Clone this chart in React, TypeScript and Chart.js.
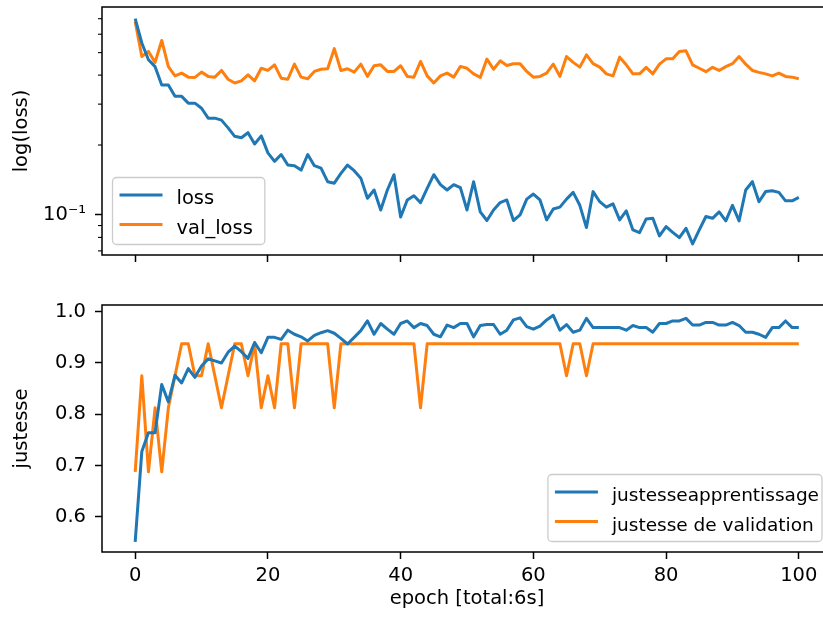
import React, { useEffect, useRef } from 'react';
import { Chart, registerables } from 'chart.js';

Chart.register(...registerables);

const EPOCHS = Array.from({ length: 101 }, (_, i) => i);

const LOSS = [
  0.700, 0.550, 0.466, 0.435, 0.363, 0.363, 0.324, 0.324, 0.303, 0.303,
  0.288, 0.261, 0.261, 0.256, 0.237, 0.218, 0.215, 0.226, 0.202, 0.219,
  0.185, 0.170, 0.182, 0.164, 0.163, 0.156, 0.182, 0.163, 0.159, 0.139,
  0.137, 0.151, 0.164, 0.155, 0.144, 0.118, 0.128, 0.105, 0.128, 0.149,
  0.098, 0.116, 0.121, 0.113, 0.130, 0.149, 0.135, 0.128, 0.135, 0.131,
  0.105, 0.139, 0.103, 0.0946, 0.105, 0.113, 0.116, 0.0946, 0.100, 0.117,
  0.123, 0.116, 0.0952, 0.106, 0.108, 0.117, 0.125, 0.110, 0.0882, 0.126,
  0.114, 0.108, 0.1115, 0.0952, 0.104, 0.0862, 0.0839, 0.0961, 0.0967, 0.0812,
  0.0891, 0.0841, 0.0798, 0.0876, 0.0750, 0.0862, 0.0984, 0.0967, 0.103, 0.0943,
  0.110, 0.0943, 0.128, 0.139, 0.114, 0.126, 0.127, 0.125, 0.115, 0.115,
  0.119,
];

const VAL_LOSS = [
  0.681, 0.481, 0.506, 0.454, 0.564, 0.435, 0.397, 0.408, 0.392, 0.391,
  0.412, 0.395, 0.392, 0.419, 0.384, 0.370, 0.378, 0.401, 0.378, 0.428,
  0.419, 0.443, 0.388, 0.384, 0.446, 0.392, 0.386, 0.415, 0.424, 0.426,
  0.520, 0.419, 0.426, 0.412, 0.446, 0.395, 0.439, 0.443, 0.415, 0.415,
  0.439, 0.395, 0.392, 0.458, 0.397, 0.370, 0.397, 0.408, 0.392, 0.436,
  0.428, 0.405, 0.391, 0.469, 0.424, 0.461, 0.440, 0.448, 0.448, 0.415,
  0.392, 0.395, 0.408, 0.446, 0.395, 0.481, 0.454, 0.433, 0.489, 0.448,
  0.433, 0.405, 0.397, 0.478, 0.443, 0.405, 0.405, 0.432, 0.405, 0.446,
  0.470, 0.470, 0.506, 0.509, 0.443, 0.428, 0.414, 0.432, 0.419, 0.435,
  0.448, 0.481, 0.446, 0.419, 0.411, 0.405, 0.397, 0.408, 0.395, 0.392,
  0.386,
];

const TRAIN_ACC = [
  0.551, 0.727, 0.764, 0.764, 0.858, 0.824, 0.876, 0.861, 0.889, 0.872,
  0.894, 0.908, 0.904, 0.900, 0.921, 0.933, 0.922, 0.909, 0.940, 0.920,
  0.950, 0.950, 0.946, 0.964, 0.956, 0.951, 0.943, 0.954, 0.959, 0.963,
  0.958, 0.948, 0.937, 0.950, 0.963, 0.982, 0.956, 0.977, 0.966, 0.956,
  0.977, 0.982, 0.969, 0.977, 0.973, 0.956, 0.951, 0.974, 0.969, 0.977,
  0.977, 0.951, 0.973, 0.975, 0.975, 0.956, 0.964, 0.984, 0.988, 0.971,
  0.966, 0.972, 0.984, 0.993, 0.964, 0.975, 0.960, 0.964, 0.987, 0.969,
  0.969, 0.969, 0.969, 0.969, 0.964, 0.973, 0.969, 0.969, 0.960, 0.977,
  0.977, 0.982, 0.982, 0.987, 0.974, 0.974, 0.979, 0.979, 0.974, 0.974,
  0.979, 0.973, 0.960, 0.960, 0.956, 0.950, 0.969, 0.969, 0.982, 0.969,
  0.969,
];

const VAL_ACC = [
  0.6875, 0.875, 0.6875, 0.8125, 0.6875, 0.8125, 0.875, 0.9375, 0.9375, 0.875,
  0.875, 0.9375, 0.875, 0.8125, 0.875, 0.9375, 0.9375, 0.875, 0.9375, 0.8125,
  0.875, 0.8125, 0.9375, 0.9375, 0.8125, 0.9375, 0.9375, 0.9375, 0.9375, 0.9375,
  0.8125, 0.9375, 0.9375, 0.9375, 0.9375, 0.9375, 0.9375, 0.9375, 0.9375, 0.9375,
  0.9375, 0.9375, 0.9375, 0.8125, 0.9375, 0.9375, 0.9375, 0.9375, 0.9375, 0.9375,
  0.9375, 0.9375, 0.9375, 0.9375, 0.9375, 0.9375, 0.9375, 0.9375, 0.9375, 0.9375,
  0.9375, 0.9375, 0.9375, 0.9375, 0.9375, 0.875, 0.9375, 0.9375, 0.875, 0.9375,
  0.9375, 0.9375, 0.9375, 0.9375, 0.9375, 0.9375, 0.9375, 0.9375, 0.9375, 0.9375,
  0.9375, 0.9375, 0.9375, 0.9375, 0.9375, 0.9375, 0.9375, 0.9375, 0.9375, 0.9375,
  0.9375, 0.9375, 0.9375, 0.9375, 0.9375, 0.9375, 0.9375, 0.9375, 0.9375, 0.9375,
  0.9375,
];

const X_TICKS = [0, 20, 40, 60, 80, 100];
const LOSS_TICKS = [0.07, 0.08, 0.09, 0.1, 0.2, 0.3, 0.4, 0.5, 0.6, 0.7];
const LOSS_MAJOR = 0.1;
const ACC_TICKS = [0.6, 0.7, 0.8, 0.9, 1.0];

const LABEL_LOSS = 'loss';
const LABEL_VAL_LOSS = 'val_loss';
const LABEL_TRAIN_ACC = 'justesseapprentissage';
const LABEL_VAL_ACC = 'justesse de validation';

const BLUE = '#1f77b4';
const ORANGE = '#ff7f0e';
const FONT = 'DejaVu Sans';
const FS = 19.5;

const isMajor = (v: number) => Math.abs(v - LOSS_MAJOR) < 1e-9;

const mplPlugin = {
  id: 'mpl',
  afterDraw(chart: any, _args: any, opts: any) {
    const { ctx, chartArea: a } = chart;
    ctx.save();
    if (opts.minorTicks) {
      const ys = chart.scales.y;
      ctx.strokeStyle = '#000';
      ctx.lineWidth = 1.1;
      for (const v of opts.minorTicks) {
        const py = ys.getPixelForValue(v);
        ctx.beginPath();
        ctx.moveTo(a.left - 4, py);
        ctx.lineTo(a.left, py);
        ctx.stroke();
      }
    }
    ctx.lineWidth = 1.5;
    ctx.strokeStyle = '#000';
    ctx.strokeRect(a.left, a.top, a.right - a.left, a.bottom - a.top);

    const fs = opts.legendSize || FS;
    ctx.font = `${fs}px "${FONT}"`;
    const items = chart.data.datasets.map((d: any) => ({ label: d.label, color: d.borderColor }));
    const tw = Math.max(...items.map((i: any) => ctx.measureText(i.label).width));
    const w = 64 + tw + (opts.legendPadRight ?? 9);
    const h = 67;
    const x = opts.legendLoc === 'lower left' ? a.left + 10.5 : a.right - 10 - w;
    const y = a.bottom - 10.5 - h;
    ctx.beginPath();
    if ((ctx as any).roundRect) (ctx as any).roundRect(x, y, w, h, 4);
    else ctx.rect(x, y, w, h);
    ctx.fillStyle = 'rgba(255,255,255,0.8)';
    ctx.fill();
    ctx.strokeStyle = '#cccccc';
    ctx.lineWidth = 1.3;
    ctx.stroke();
    items.forEach((it: any, k: number) => {
      const cy = y + 17.5 + k * 29.5;
      ctx.beginPath();
      ctx.strokeStyle = it.color;
      ctx.lineWidth = 3;
      ctx.lineCap = 'butt';
      ctx.moveTo(x + 7, cy);
      ctx.lineTo(x + 50, cy);
      ctx.stroke();
      ctx.fillStyle = '#000';
      ctx.textBaseline = 'alphabetic';
      ctx.textAlign = 'left';
      ctx.fillText(it.label, x + 64, cy + 9);
    });
    ctx.restore();
  },
};

const tickFont = { family: FONT, size: FS };

function xScale(showLabels: boolean, axisHeight: number) {
  return {
    type: 'linear',
    min: -5,
    max: 105,
    afterBuildTicks: (s: any) => {
      s.ticks = X_TICKS.map((v) => ({ value: v }));
    },
    afterFit: (s: any) => {
      s.height = axisHeight;
    },
    border: { display: false },
    grid: {
      drawOnChartArea: false,
      drawTicks: true,
      tickLength: 7,
      tickWidth: 1.5,
      tickColor: '#000',
    },
    ticks: {
      display: showLabels,
      font: tickFont,
      color: '#000',
      padding: 5,
      maxRotation: 0,
      callback: (v: any) => String(v),
    },
    title: showLabels
      ? {
          display: true,
          text: 'epoch [total:6s]',
          font: tickFont,
          color: '#000',
          padding: { top: 0, bottom: 7.5 },
        }
      : { display: false },
  };
}

function yTitle(text: string) {
  return {
    display: true,
    text,
    font: tickFont,
    color: '#000',
    padding: { top: 10.5, bottom: 0 },
  };
}

const lineStyle = { borderWidth: 3, pointRadius: 0, tension: 0, fill: false, borderJoinStyle: 'round' };

function topConfig(): any {
  return {
    type: 'line',
    data: {
      datasets: [
        { label: LABEL_LOSS, data: EPOCHS.map((e, i) => ({ x: e, y: LOSS[i] })), borderColor: BLUE },
        { label: LABEL_VAL_LOSS, data: EPOCHS.map((e, i) => ({ x: e, y: VAL_LOSS[i] })), borderColor: ORANGE },
      ].map((d) => ({ ...d, ...lineStyle })),
    },
    options: {
      responsive: false,
      animation: false,
      events: [],
      layout: { padding: { top: 37, right: 28, bottom: 0, left: 0 } },
      plugins: {
        legend: { display: false },
        tooltip: { enabled: false },
        mpl: {
          minorTicks: LOSS_TICKS.filter((v) => !isMajor(v)),
          legendLoc: 'lower left',
          legendSize: 19.5,
          legendPadRight: 12,
        },
      },
      scales: {
        x: xScale(false, 25),
        y: {
          type: 'logarithmic',
          min: 0.0672,
          max: 0.786,
          afterBuildTicks: (s: any) => {
            s.ticks = LOSS_TICKS.map((v) => ({ value: v }));
          },
          afterFit: (s: any) => {
            s.width = 102;
          },
          border: { display: false },
          grid: {
            drawOnChartArea: false,
            drawTicks: true,
            tickLength: 7,
            tickWidth: 1.5,
            tickColor: (c: any) => (c.tick && isMajor(c.tick.value) ? '#000' : 'rgba(0,0,0,0)'),
          },
          ticks: {
            font: tickFont,
            color: '#000',
            padding: 9,
            autoSkip: false,
            callback: (v: any) => (isMajor(Number(v)) ? '10\u207B\u00B9' : ''),
          },
          title: yTitle('log(loss)'),
        },
      },
    },
    plugins: [mplPlugin],
  };
}

function bottomConfig(): any {
  return {
    type: 'line',
    data: {
      datasets: [
        { label: LABEL_TRAIN_ACC, data: EPOCHS.map((e, i) => ({ x: e, y: TRAIN_ACC[i] })), borderColor: BLUE },
        { label: LABEL_VAL_ACC, data: EPOCHS.map((e, i) => ({ x: e, y: VAL_ACC[i] })), borderColor: ORANGE },
      ].map((d) => ({ ...d, ...lineStyle })),
    },
    options: {
      responsive: false,
      animation: false,
      events: [],
      layout: { padding: { top: 25, right: 28, bottom: 0, left: 0 } },
      plugins: {
        legend: { display: false },
        tooltip: { enabled: false },
        mpl: { legendLoc: 'lower right', legendSize: 18.5, legendPadRight: 3 },
      },
      scales: {
        x: xScale(true, 66),
        y: {
          type: 'linear',
          min: 0.5311,
          max: 1.0131,
          afterBuildTicks: (s: any) => {
            s.ticks = ACC_TICKS.map((v) => ({ value: v }));
          },
          afterFit: (s: any) => {
            s.width = 102;
          },
          border: { display: false },
          grid: {
            drawOnChartArea: false,
            drawTicks: true,
            tickLength: 7,
            tickWidth: 1.5,
            tickColor: '#000',
          },
          ticks: {
            font: tickFont,
            color: '#000',
            padding: 9,
            autoSkip: false,
            callback: (v: any) => Number(v).toFixed(1),
          },
          title: yTitle('justesse'),
        },
      },
    },
    plugins: [mplPlugin],
  };
}

export default function App() {
  const topRef = useRef<HTMLCanvasElement>(null);
  const botRef = useRef<HTMLCanvasElement>(null);

  useEffect(() => {
    const c1 = new Chart(topRef.current as HTMLCanvasElement, topConfig());
    const c2 = new Chart(botRef.current as HTMLCanvasElement, bottomConfig());
    return () => {
      c1.destroy();
      c2.destroy();
    };
  }, []);

  return (
    <div
      style={{
        position: 'absolute',
        left: 0,
        top: 0,
        width: 823,
        height: 618,
        overflow: 'hidden',
        background: '#fff',
      }}
    >
      <canvas
        ref={topRef}
        width={860}
        height={310}
        style={{ position: 'absolute', left: 0, top: -30, width: 860, height: 310 }}
      />
      <canvas
        ref={botRef}
        width={860}
        height={338}
        style={{ position: 'absolute', left: 0, top: 280, width: 860, height: 338 }}
      />
    </div>
  );
}
